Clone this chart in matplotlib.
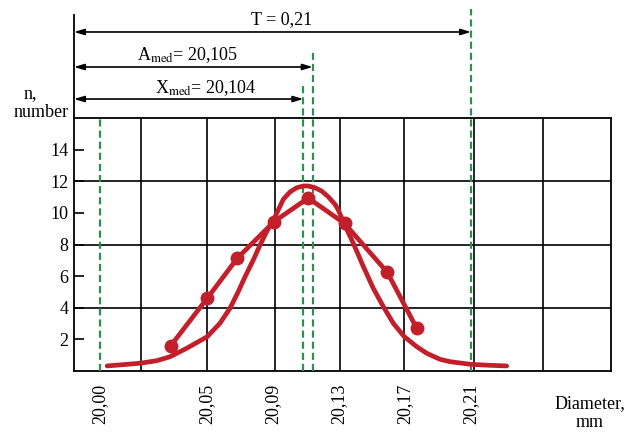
import numpy as np
import matplotlib
matplotlib.use("Agg")
import matplotlib.pyplot as plt

plt.rcParams['font.family'] = ['Liberation Serif', 'DejaVu Serif']
plt.rcParams['mathtext.fontset'] = 'stix'

# ---- data ----
tick_values = [20.00, 20.05, 20.09, 20.13, 20.17, 20.21]
tick_labels = ["20,00", "20,05", "20,09", "20,13", "20,17", "20,21"]
y_ticks = [2, 4, 6, 8, 10, 12, 14]
y_grid = [4, 8, 12]

# empirical polygon (points)
emp_x = [20.0331, 20.0502, 20.0684, 20.0906, 20.1114, 20.1334, 20.1593, 20.1771]
emp_n = [1.60, 4.60, 7.13, 9.44, 10.94, 9.33, 6.24, 2.70]

# theoretical (smooth) curve, sampled along the drawn line
curve_x = [20.0034, 20.0187, 20.0265, 20.0327, 20.0406, 20.0502, 20.0579, 20.0640,
           20.0690, 20.0731, 20.0781, 20.0822, 20.0862, 20.0913, 20.0963, 20.1003,
           20.1044, 20.1084, 20.1114, 20.1155, 20.1195, 20.1235, 20.1276, 20.1296,
           20.1332, 20.1387, 20.1448, 20.1508, 20.1569, 20.1629, 20.1696, 20.1771,
           20.1832, 20.1912, 20.1973, 20.2100, 20.2215, 20.2316]
curve_n = [0.32, 0.49, 0.65, 0.90, 1.44, 2.17, 3.02, 3.97,
           5.02, 5.96, 7.02, 7.97, 8.81, 9.76, 10.86, 11.32,
           11.59, 11.70, 11.70, 11.59, 11.38, 11.02, 10.54, 10.18,
           9.30, 8.08, 6.60, 5.23, 4.07, 3.02, 2.17, 1.54,
           1.12, 0.74, 0.59, 0.42, 0.36, 0.32]

lower_limit = 20.00
upper_limit = 20.21
x_med_line = 20.1084
a_med_line = 20.1141
T_text = "T = 0,21"
A_text = r"A$_{\rm med}$= 20,105"
X_text = r"X$_{\rm med}$= 20,104"

# ---- schematic (piecewise-linear) x scale of the original drawing ----
SEG_U, SLOPE_A, SLOPE_B = 1.98, 31.86, 24.59
GRID_U = [0.994, 1.986, 2.994, 3.96, 4.92, 5.96, 6.98]


def fwd(x):
    x = np.asarray(x, float)
    return np.where(x < 20.05, SEG_U + (x - 20.05) * SLOPE_A, SEG_U + (x - 20.05) * SLOPE_B)


def inv(u):
    u = np.asarray(u, float)
    return np.where(u < SEG_U, 20.05 + (u - SEG_U) / SLOPE_A, 20.05 + (u - SEG_U) / SLOPE_B)


RED = '#c21f2b'
GREEN = '#2f8f4e'

fig = plt.figure(figsize=(6.35, 4.32), dpi=100)
ax = fig.add_axes([74 / 635, 61 / 432, 537 / 635, 253 / 432])
ax.set_xscale('function', functions=(fwd, inv))
ax.set_xlim(float(inv(0)), float(inv(8)))
ax.set_ylim(0, 16)

# grid
for xv in inv(np.array(GRID_U)):
    ax.axvline(xv, color='black', lw=1.2, zorder=1)
for yv in y_grid:
    ax.axhline(yv, color='black', lw=1.2, zorder=1)
for s in ax.spines.values():
    s.set_color('black')
    s.set_linewidth(1.3)

ax.set_xticks(tick_values, tick_labels, rotation=90, fontsize=13)
ax.tick_params(axis='x', which='major', length=0, pad=9)
ax.set_xticks([], minor=True)
ax.set_yticks(y_ticks, [str(v) for v in y_ticks], fontsize=13)
ax.tick_params(axis='y', which='major', direction='in', length=7.5, width=1.2, pad=4)

# extended y-axis line
ax.plot([0, 0], [1, 1.407], transform=ax.transAxes, color='black', lw=1.3, clip_on=False)

# green dashed lines
xt = ax.get_xaxis_transform()
dash = (0, (3.2, 1.8))
for xv, top in [(lower_limit, 1.0), (x_med_line, 1.138), (a_med_line, 1.257), (upper_limit, 1.431)]:
    ax.plot([xv, xv], [0, top], transform=xt, color=GREEN, lw=1.6, ls=dash, clip_on=False, zorder=3)

# curves
ax.plot(curve_x, curve_n, color=RED, lw=3.4, solid_joinstyle='round', solid_capstyle='round', zorder=4)
ax.plot(emp_x, emp_n, color=RED, lw=3.4, marker='o', ms=9, solid_joinstyle='round', zorder=5)

# dimension arrows
left = float(inv(0))
for xv, yf in [(upper_limit, 1.340), (a_med_line, 1.2016), (x_med_line, 1.075)]:
    ax.annotate('', xy=(xv, yf), xycoords=xt, xytext=(left, yf), textcoords=xt,
                arrowprops=dict(arrowstyle='<|-|>,head_length=0.6,head_width=0.18',
                                color='black', lw=1.2, shrinkA=0, shrinkB=0),
                annotation_clip=False)

ax.text(0.387, 1.372, T_text, transform=ax.transAxes, ha='center', va='baseline', fontsize=13)
ax.text(0.212, 1.229, A_text, transform=ax.transAxes, ha='center', va='baseline', fontsize=13)
ax.text(0.246, 1.099, X_text, transform=ax.transAxes, ha='center', va='baseline', fontsize=13)

fig.text(30 / 635, 1 - 98 / 432, "n,", ha='center', va='baseline', fontsize=13)
fig.text(41 / 635, 1 - 117 / 432, "number", ha='center', va='baseline', fontsize=13)
fig.text(590 / 635, 1 - 408 / 432, "Diameter,", ha='center', va='baseline', fontsize=13)
fig.text(590 / 635, 1 - 427 / 432, "mm", ha='center', va='baseline', fontsize=13)

fig.savefig("out.png", dpi=100)
